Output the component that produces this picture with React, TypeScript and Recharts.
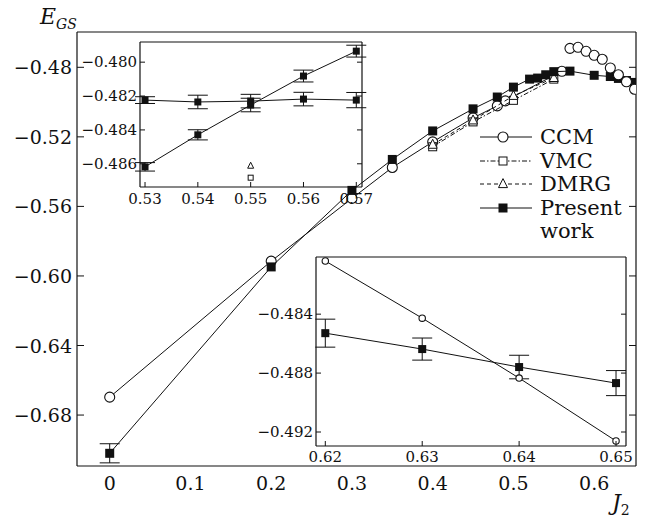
import React from "react";
import { ScatterChart, Scatter, XAxis, YAxis, ErrorBar } from "recharts";

const ink = "#111";
const serif = "DejaVu Serif, serif";

// main panel: E_GS vs J2
const ccmJ2 = [0, 0.2, 0.3, 0.35, 0.4, 0.45, 0.48, 0.49, 0.56];
const ccmE = [-0.6697, -0.5915, -0.5554, -0.5376, -0.5229, -0.5091, -0.5022, -0.4993, -0.4823];
const ccmHighJ2 = [0.57, 0.58, 0.59, 0.6, 0.61, 0.62, 0.63, 0.64, 0.65];
const ccmHighE = [-0.4691, -0.4685, -0.4708, -0.4731, -0.4754, -0.4804, -0.4843, -0.4883, -0.4926];
const vmcJ2 = [0.4, 0.45, 0.5, 0.55];
const vmcE = [-0.5257, -0.5114, -0.499, -0.4868];
const dmrgJ2 = [0.4, 0.45, 0.5, 0.55];
const dmrgE = [-0.5245, -0.5105, -0.4964, -0.4861];
const presJ2 = [0, 0.2, 0.3, 0.35, 0.4, 0.45, 0.48, 0.5, 0.52, 0.53, 0.54, 0.55, 0.57, 0.6, 0.62, 0.63, 0.64, 0.65];
const presE = [-0.702, -0.5948, -0.5508, -0.533, -0.5166, -0.5039, -0.4971, -0.4914, -0.4868, -0.4862, -0.4843, -0.4825, -0.4822, -0.4846, -0.4853, -0.4864, -0.4876, -0.4887];
const presErr = [0.0055, 0, 0, 0, 0, 0, 0, 0, 0, 0, 0, 0, 0, 0, 0, 0, 0, 0];

const mainXLabels = [0, 0.1, 0.2, 0.3, 0.4, 0.5, 0.6];
const mainXMarksBottom = [-0.0235, 0.102, 0.227, 0.353, 0.6];
const mainXMarksTop = [-0.0235, 0.102, 0.227, 0.353, 0.502, 0.6];
const mainYTicks = [-0.68, -0.64, -0.6, -0.56, -0.52, -0.48];

// inset 1 (0.53 - 0.57)
const ins1J2 = [0.53, 0.54, 0.55, 0.56, 0.57];
const ins1FlatE = [-0.48224, -0.48235, -0.4823, -0.48218, -0.48224];
const ins1FlatErr = [0.0002, 0.0004, 0.0004, 0.0004, 0.00045];
const ins1RiseE = [-0.48618, -0.48429, -0.48253, -0.48082, -0.47935];
const ins1RiseErr = [0.00025, 0.0003, 0.0004, 0.00035, 0.00035];
const ins1VmcJ2 = [0.55];
const ins1VmcE = [-0.48682];
const ins1DmrgJ2 = [0.55];
const ins1DmrgE = [-0.48612];
const ins1YTicks = [-0.486, -0.484, -0.482, -0.48];

// inset 2 (0.62 - 0.65)
const ins2J2 = [0.62, 0.63, 0.64, 0.65];
const ins2CcmE = [-0.48039, -0.48427, -0.48834, -0.49261];
const ins2PresE = [-0.48529, -0.48637, -0.48759, -0.48868];
const ins2PresErr = [0.00095, 0.00075, 0.0008, 0.00085];
const ins2YTicks = [-0.492, -0.488, -0.484];

const legendNames = ["CCM", "VMC", "DMRG", "Present"];

const rows = (xs: number[], ys: number[], errs?: number[]) =>
  xs.map((x, i) => ({ x, y: ys[i], err: errs ? errs[i] : 0 }));

const minus = (s: string) => s.replace("-", "\u2212");

const openCircle = (r: number) => (p: any) => (
  <circle cx={p.cx} cy={p.cy} r={r} fill="#fff" stroke={ink} strokeWidth={1.1} />
);
const filledSquare = (s: number) => (p: any) => (
  <rect x={p.cx - s / 2} y={p.cy - s / 2} width={s} height={s} fill={ink} />
);
const openSquare = (s: number) => (p: any) => (
  <rect x={p.cx - s / 2} y={p.cy - s / 2} width={s} height={s} fill="#fff" stroke={ink} strokeWidth={1} />
);
const openTriangle = (s: number) => (p: any) => (
  <polygon
    points={`${p.cx},${p.cy - s * 0.6} ${p.cx - s / 2},${p.cy + s * 0.4} ${p.cx + s / 2},${p.cy + s * 0.4}`}
    fill="#fff"
    stroke={ink}
    strokeWidth={1}
  />
);

const txt = (fs: number) => ({ fill: ink, fontFamily: serif, fontSize: fs, style: { fontSize: fs, fontFamily: serif } });

const bottomTick = (len: number, fs = 0, dy = 0, fmt?: (v: number) => string) => (p: any) => (
  <g>
    {len > 0 && <line x1={p.x} x2={p.x} y1={p.y} y2={p.y - len} stroke={ink} />}
    {fmt && (
      <text x={p.x} y={p.y + dy} textAnchor="middle" dominantBaseline="central" {...txt(fs)}>
        {fmt(p.payload.value)}
      </text>
    )}
  </g>
);
const topTick = (len: number) => (p: any) => (
  <line x1={p.x} x2={p.x} y1={p.y} y2={p.y + len} stroke={ink} />
);
const leftTick = (len: number, fs = 0, dx = 0, fmt?: (v: number) => string) => (p: any) => (
  <g>
    <line x1={p.x} x2={p.x + len} y1={p.y} y2={p.y} stroke={ink} />
    {fmt && (
      <text x={p.x - dx} y={p.y} textAnchor="end" dominantBaseline="central" {...txt(fs)}>
        {fmt(p.payload.value)}
      </text>
    )}
  </g>
);
const rightTick = (len: number) => (p: any) => (
  <line x1={p.x} x2={p.x - len} y1={p.y} y2={p.y} stroke={ink} />
);

const solid = { stroke: ink, strokeWidth: 1 };

// every axis is 1px thick so it still renders; margins absorb that
function axes(o: {
  xd: [number, number];
  yd: [number, number];
  xLabels: number[];
  xBottomMarks: number[];
  xTopMarks: number[];
  yTicks: number[];
  len: number;
  fs: number;
  xdy: number;
  ydx: number;
  xfmt: (v: number) => string;
  yfmt: (v: number) => string;
  labelMarks: boolean;
}) {
  const axisLine = { stroke: ink, strokeWidth: 1.2 };
  return [
    <XAxis key="b" xAxisId="b" type="number" dataKey="x" domain={o.xd} allowDataOverflow ticks={o.xLabels}
      height={1} tickSize={0} tickMargin={0} tickLine={false} axisLine={axisLine} interval={0}
      tick={bottomTick(o.labelMarks ? o.len : 0, o.fs, o.xdy, o.xfmt)} />,
    <XAxis key="bm" xAxisId="bm" type="number" domain={o.xd} allowDataOverflow ticks={o.xBottomMarks.length ? o.xBottomMarks : o.xLabels}
      height={1} tickSize={0} tickMargin={0} tickLine={false} axisLine={false} interval={0}
      tick={bottomTick(o.xBottomMarks.length ? o.len : 0)} />,
    <XAxis key="t" xAxisId="t" orientation="top" type="number" domain={o.xd} allowDataOverflow ticks={o.xTopMarks}
      height={1} tickSize={0} tickMargin={0} tickLine={false} axisLine={axisLine} interval={0}
      tick={topTick(o.len)} />,
    <YAxis key="l" yAxisId="l" type="number" dataKey="y" domain={o.yd} allowDataOverflow ticks={o.yTicks}
      width={1} tickSize={0} tickMargin={0} tickLine={false} axisLine={axisLine} interval={0}
      tick={leftTick(o.len, o.fs, o.ydx, o.yfmt)} />,
    <YAxis key="r" yAxisId="r" orientation="right" type="number" domain={o.yd} allowDataOverflow ticks={o.yTicks}
      width={1} tickSize={0} tickMargin={0} tickLine={false} axisLine={axisLine} interval={0}
      tick={rightTick(o.len)} />,
  ];
}

function MainChart() {
  return (
    <ScatterChart width={656} height={522} margin={{ top: 31, right: 19, bottom: 54, left: 76 }}>
      {axes({
        xd: [-0.0405, 0.6518],
        yd: [-0.7093, -0.4597],
        xLabels: mainXLabels,
        xBottomMarks: mainXMarksBottom,
        xTopMarks: mainXMarksTop,
        yTicks: mainYTicks,
        len: 7,
        fs: 19,
        xdy: 17,
        ydx: 5,
        xfmt: (v) => String(v),
        yfmt: (v) => minus(v.toFixed(2)),
        labelMarks: false,
      })}
      <Scatter xAxisId="b" yAxisId="l" data={rows(ccmJ2, ccmE)} line={solid} shape={openCircle(5)} isAnimationActive={false} />
      <Scatter xAxisId="b" yAxisId="l" data={rows(vmcJ2, vmcE)} line={{ ...solid, strokeDasharray: "5 2 1.5 2" }} shape={openSquare(8)} isAnimationActive={false} />
      <Scatter xAxisId="b" yAxisId="l" data={rows(dmrgJ2, dmrgE)} line={{ ...solid, strokeDasharray: "4 3" }} shape={openTriangle(9)} isAnimationActive={false} />
      <Scatter xAxisId="b" yAxisId="l" data={rows(presJ2, presE, presErr)} line={solid} shape={filledSquare(9)} isAnimationActive={false}>
        <ErrorBar dataKey="err" direction="y" width={10} stroke={ink} strokeWidth={1} />
      </Scatter>
      <Scatter xAxisId="b" yAxisId="l" data={rows(ccmHighJ2, ccmHighE)} shape={openCircle(5)} isAnimationActive={false} />
    </ScatterChart>
  );
}

function Inset1() {
  return (
    <ScatterChart width={300} height={173} margin={{ top: 1, right: 17, bottom: 24, left: 59 }}>
      {axes({
        xd: [0.52905, 0.57108],
        yd: [-0.48737, -0.47881],
        xLabels: ins1J2,
        xBottomMarks: [],
        xTopMarks: ins1J2,
        yTicks: ins1YTicks,
        len: 5,
        fs: 15,
        xdy: 12,
        ydx: 3,
        xfmt: (v) => v.toFixed(2),
        yfmt: (v) => minus(v.toFixed(3)),
        labelMarks: true,
      })}
      <Scatter xAxisId="b" yAxisId="l" data={rows(ins1J2, ins1FlatE, ins1FlatErr)} line={solid} shape={filledSquare(7)} isAnimationActive={false}>
        <ErrorBar dataKey="err" direction="y" width={10} stroke={ink} strokeWidth={1} />
      </Scatter>
      <Scatter xAxisId="b" yAxisId="l" data={rows(ins1J2, ins1RiseE, ins1RiseErr)} line={solid} shape={filledSquare(7)} isAnimationActive={false}>
        <ErrorBar dataKey="err" direction="y" width={10} stroke={ink} strokeWidth={1} />
      </Scatter>
      <Scatter xAxisId="b" yAxisId="l" data={rows(ins1VmcJ2, ins1VmcE)} shape={openSquare(5)} isAnimationActive={false} />
      <Scatter xAxisId="b" yAxisId="l" data={rows(ins1DmrgJ2, ins1DmrgE)} shape={openTriangle(6)} isAnimationActive={false} />
    </ScatterChart>
  );
}

function Inset2() {
  return (
    <ScatterChart width={392} height={215} margin={{ top: 1, right: 21, bottom: 22, left: 59 }}>
      {axes({
        xd: [0.61904, 0.65103],
        yd: [-0.49295, -0.48012],
        xLabels: ins2J2,
        xBottomMarks: [],
        xTopMarks: ins2J2,
        yTicks: ins2YTicks,
        len: 5,
        fs: 15,
        xdy: 11,
        ydx: 3,
        xfmt: (v) => v.toFixed(2),
        yfmt: (v) => minus(v.toFixed(3)),
        labelMarks: true,
      })}
      <Scatter xAxisId="b" yAxisId="l" data={rows(ins2J2, ins2CcmE)} line={solid} shape={openCircle(3.2)} isAnimationActive={false} />
      <Scatter xAxisId="b" yAxisId="l" data={rows(ins2J2, ins2PresE, ins2PresErr)} line={solid} shape={filledSquare(8)} isAnimationActive={false}>
        <ErrorBar dataKey="err" direction="y" width={10} stroke={ink} strokeWidth={1} />
      </Scatter>
    </ScatterChart>
  );
}

function LegendBox() {
  const dashes = [undefined, "5 2 1.5 2", "4 3", undefined];
  const marks = [openCircle(5), openSquare(8), openTriangle(9), filledSquare(9)];
  const rowY = [13, 37, 60, 84];
  return (
    <svg width={178} height={125} style={{ position: "absolute", left: 474, top: 124 }}>
      {legendNames.map((name, i) => (
        <g key={name}>
          <line x1={6} x2={58} y1={rowY[i]} y2={rowY[i]} stroke={ink} strokeWidth={1} strokeDasharray={dashes[i]} />
          {marks[i]({ cx: 29, cy: rowY[i] })}
          <text x={66} y={rowY[i]} dominantBaseline="central" {...txt(21)}>{name}</text>
        </g>
      ))}
      <text x={66} y={107} dominantBaseline="central" {...txt(21)}>work</text>
    </svg>
  );
}

export default function App() {
  return (
    <div style={{ position: "absolute", left: 0, top: 0, width: 656, height: 522, background: "#fff", fontFamily: serif, color: ink }}>
      <MainChart />
      <div style={{ position: "absolute", left: 80, top: 40 }}>
        <Inset1 />
      </div>
      <div style={{ position: "absolute", left: 256, top: 255 }}>
        <Inset2 />
      </div>
      <LegendBox />
      <div style={{ position: "absolute", left: 40, top: 2, fontSize: 22, fontStyle: "italic", lineHeight: "30px" }}>
        E<sub style={{ fontSize: 14 }}>GS</sub>
      </div>
      <div style={{ position: "absolute", left: 612, top: 488, fontSize: 22, fontStyle: "italic", lineHeight: "30px" }}>
        J<sub style={{ fontSize: 14, fontStyle: "normal" }}>2</sub>
      </div>
    </div>
  );
}
